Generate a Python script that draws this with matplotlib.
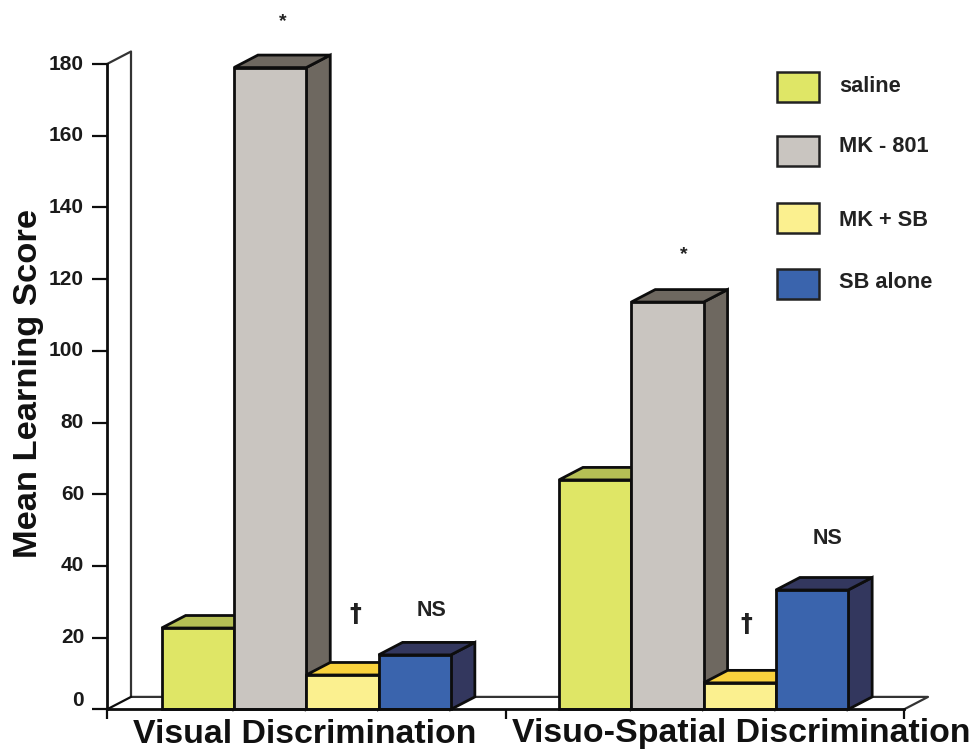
import matplotlib
matplotlib.use("Agg")
import matplotlib.pyplot as plt
from matplotlib.patches import Polygon, Rectangle
from matplotlib.transforms import ScaledTranslation

plt.rcParams["font.family"] = ["Liberation Sans", "DejaVu Sans"]
plt.rcParams["font.weight"] = "bold"

groups = ["Visual Discrimination", "Visuo-Spatial Discrimination"]
treatments = ["saline", "MK - 801", "MK + SB", "SB alone"]
visual_scores = [22.7, 179, 9.6, 15.2]
spatial_scores = [64, 113.6, 7.4, 33.3]
y_ticks = [0, 20, 40, 60, 80, 100, 120, 140, 160, 180]

FRONT = ["#DFE666", "#C9C5C0", "#FBF08F", "#3A64AD"]
DARK = ["#B5BF55", "#6E6860", "#F9D23D", "#33375E"]
INK = "#0D0D0D"
WALL = "#333333"

W, H = 975, 751


def px(x, y):
    return x / W, 1 - y / H


fig = plt.figure(figsize=(9.75, 7.51), dpi=100, facecolor="white")
ax = fig.add_axes([107 / W, 1 - 709.4 / H, (904 - 107) / W, (709.4 - 64) / H])
ax.set_xlim(0, 2)
ax.set_ylim(0, 180)
ax.patch.set_visible(False)
for side in ["top", "right"]:
    ax.spines[side].set_visible(False)
for side in ["left", "bottom"]:
    ax.spines[side].set_linewidth(2)
    ax.spines[side].set_color(INK)

# depth of the fake 3d in data units
dx = 24 / 398.5
dy = 12.5 / 3.586
bar_w = 72.3 / 398.5
centres = [0.5, 1.497]

# back wall and floor
ax.plot([0, dx, dx, dx, 2 + dx, 2], [180, 180 + dy, dy, dy, dy, 0],
        color=WALL, lw=1.6, clip_on=False, zorder=1)
ax.plot([0, dx], [0, dy], color=INK, lw=1.6, clip_on=False, zorder=1)

# bars go left to right so each one hides the side of the one before
z = 2
for centre, scores in zip(centres, [visual_scores, spatial_scores]):
    for i, v in enumerate(scores):
        x0 = centre + (i - 2) * bar_w
        x1 = x0 + bar_w
        ax.add_patch(Polygon([(x1, 0), (x1 + dx, dy), (x1 + dx, v + dy), (x1, v)],
                             fc=DARK[i], ec=INK, lw=2, zorder=z, clip_on=False))
        ax.add_patch(Polygon([(x0, v), (x0 + dx, v + dy), (x1 + dx, v + dy), (x1, v)],
                             fc=DARK[i], ec=INK, lw=2, zorder=z, clip_on=False))
        ax.bar(x0, v, width=bar_w, align="edge", color=FRONT[i], edgecolor=INK,
               linewidth=2, zorder=z, clip_on=False)
        z += 1

ax.spines["bottom"].set_zorder(50)

ax.set_xticks([0, 1, 2])
ax.set_xticklabels([])
ax.tick_params(axis="x", length=7.5, width=1.6, color=INK, direction="out")
ax.set_yticks(y_ticks)
ax.set_yticklabels([str(t) for t in y_ticks], fontsize=15, fontweight="bold", color="#1A1A1A")
ax.tick_params(axis="y", length=10.5, width=1.6, color=INK, direction="out", pad=6)

# tick labels sit a little high, the 0 much higher
for t, lab in zip(y_ticks, ax.get_yticklabels()):
    shift = 11 if t == 0 else 2
    lab.set_transform(lab.get_transform() + ScaledTranslation(0, shift / 100, fig.dpi_scale_trans))

fig.text(*px(29, 383), "Mean Learning Score", rotation=90, fontsize=24.8,
         ha="center", va="center", color="#111111")
fig.text(*px(305, 734.5), groups[0], fontsize=24.4, ha="center", va="center", color="#111111")
fig.text(*px(741.5, 733.5), groups[1], fontsize=24.4, ha="center", va="center", color="#111111")

# significance marks
for x, y, s, size in [(283, 22, "*", 14), (684, 255, "*", 14),
                      (431, 611, "NS", 15.5), (828, 539, "NS", 15.5)]:
    fig.text(*px(x, y), s, fontsize=size, ha="center", va="center", color="#222222")
for x, y in [(355, 614), (746, 624)]:
    fig.text(*px(x, y), "†", fontsize=17, family="DejaVu Sans", ha="center", va="center", color="#222222")

# legend, spacing is uneven in the original
legend_top = [72, 136, 203, 269]
legend_text = [86, 147, 220, 283]
for i, name in enumerate(treatments):
    fig.add_artist(Rectangle(px(777, legend_top[i] + 29.5), 42 / W, 29.5 / H,
                             transform=fig.transFigure, fc=FRONT[i], ec="#222222", lw=1.8))
    fig.text(*px(839, legend_text[i]), name, fontsize=15.7, ha="left", va="center", color="#222222")

fig.savefig("out.png", dpi=100, facecolor="white")
